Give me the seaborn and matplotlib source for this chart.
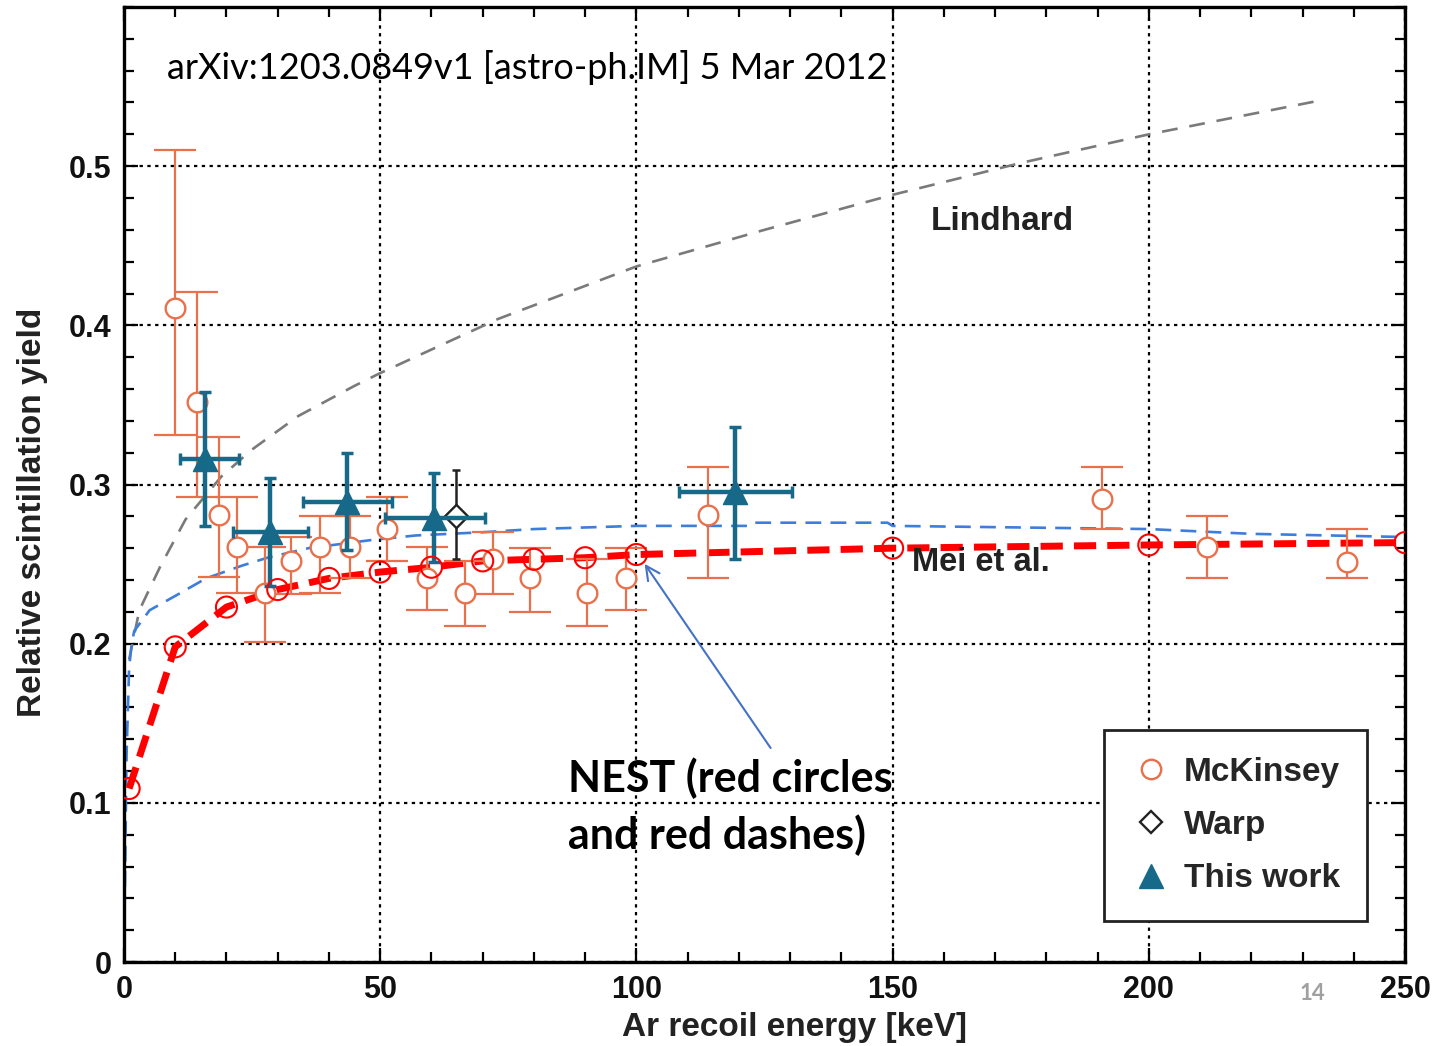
import matplotlib
matplotlib.use("Agg")
import matplotlib.pyplot as plt
import seaborn as sns
import numpy as np
import pandas as pd
from matplotlib.lines import Line2D

# ---------------- data ----------------
mck_x = [10, 14.3, 18.6, 22, 27.5, 32.6, 38.3, 44.1, 51.3, 59.1, 66.5, 72, 79.2, 90.4, 98, 114, 190.8, 211.3, 238.7]
mck_y = [0.411, 0.352, 0.281, 0.261, 0.232, 0.252, 0.261, 0.261, 0.272, 0.241, 0.232, 0.253, 0.241, 0.232, 0.241, 0.281, 0.291, 0.261, 0.251]
mck_lo = [0.331, 0.292, 0.242, 0.232, 0.201, 0.231, 0.232, 0.241, 0.252, 0.221, 0.211, 0.231, 0.220, 0.211, 0.221, 0.241, 0.272, 0.241, 0.241]
mck_hi = [0.510, 0.421, 0.330, 0.292, 0.261, 0.267, 0.280, 0.280, 0.292, 0.261, 0.252, 0.270, 0.260, 0.253, 0.260, 0.311, 0.311, 0.280, 0.272]

tw_x = [15.8, 28.5, 43.5, 60.5, 119.3]
tw_y = [0.316, 0.270, 0.289, 0.279, 0.295]
tw_lo = [0.274, 0.236, 0.259, 0.251, 0.253]
tw_hi = [0.358, 0.304, 0.320, 0.307, 0.336]
tw_xlo = [10.9, 21.3, 34.9, 51.0, 108.3]
tw_xhi = [22.4, 35.9, 52.3, 70.5, 130.4]

warp_x = [64.8]
warp_y = [0.280]
warp_lo = [0.253]
warp_hi = [0.309]

nest_x = [1, 10, 20, 30, 40, 50, 60, 70, 80, 90, 100, 150, 200, 250]
nest_y = [0.109, 0.198, 0.223, 0.234, 0.241, 0.245, 0.248, 0.252, 0.253, 0.254, 0.256, 0.260, 0.262, 0.2635]

mei_x = [0, 0.5, 1.0, 1.5, 2, 5, 10, 16, 23, 28, 36, 48, 57, 70, 80, 100, 122, 123, 149, 150, 200, 220, 250]
mei_y = [0.0, 0.13, 0.185, 0.200, 0.208, 0.221, 0.230, 0.241, 0.249, 0.254, 0.260, 0.265, 0.268, 0.270, 0.272, 0.274, 0.274, 0.276, 0.276, 0.274, 0.272, 0.269, 0.267]

lind_x = [1, 3, 7, 12, 19, 25, 34, 45, 50, 73, 100, 125, 150, 175, 200, 233]
lind_y = [0.19, 0.221, 0.248, 0.278, 0.305, 0.322, 0.343, 0.362, 0.370, 0.404, 0.437, 0.460, 0.482, 0.502, 0.520, 0.541]

x_ticks = [0, 50, 100, 150, 200, 250]
y_ticks = [0, 0.1, 0.2, 0.3, 0.4, 0.5]
y_tick_labels = ["0", "0.1", "0.2", "0.3", "0.4", "0.5"]

# ---------------- style ----------------
sns.set_theme(style="white")
plt.rcParams["font.family"] = ["Liberation Sans", "DejaVu Sans"]
plt.rcParams["font.weight"] = "bold"

C_MCK = "#E8704A"
C_TW = "#17698A"
C_RED = "#FF0000"
C_MEI = "#3D7DDB"
C_LIND = "#7A7A7A"

fig = plt.figure(figsize=(14.35, 10.46), dpi=100)
ax = fig.add_axes([124 / 1435, 84 / 1046, 1281 / 1435, 955 / 1046])

# curves
sns.lineplot(x=lind_x, y=lind_y, ax=ax, color=C_LIND, lw=1.9, sort=False,
             estimator=None, linestyle=(0, (6, 4.5)), zorder=2)
sns.lineplot(x=mei_x, y=mei_y, ax=ax, color=C_MEI, lw=1.9, sort=False,
             estimator=None, linestyle=(0, (6, 3.5)), zorder=2)
sns.lineplot(x=nest_x, y=nest_y, ax=ax, color=C_RED, lw=5, sort=False,
             estimator=None, linestyle=(0, (3.2, 1.6)), zorder=3)

# McKinsey
mck_y_arr = np.array(mck_y)
ax.errorbar(mck_x, mck_y, yerr=[mck_y_arr - np.array(mck_lo), np.array(mck_hi) - mck_y_arr],
            fmt="none", ecolor=C_MCK, elinewidth=1.6, capsize=15, capthick=1.6, zorder=4)
sns.scatterplot(x=mck_x, y=mck_y, ax=ax, marker="o", s=200, facecolor="white",
                edgecolor=C_MCK, linewidth=1.7, zorder=5)

# Warp
wy = np.array(warp_y)
ax.errorbar(warp_x, warp_y, yerr=[wy - np.array(warp_lo), np.array(warp_hi) - wy],
            fmt="none", ecolor="#222222", elinewidth=1.8, capsize=3, capthick=1.8, zorder=4)
sns.scatterplot(x=warp_x, y=warp_y, ax=ax, marker="D", s=140, facecolor="white",
                edgecolor="#222222", linewidth=1.7, zorder=5)

# This work
ty = np.array(tw_y)
tx = np.array(tw_x)
ax.errorbar(tw_x, tw_y, yerr=[ty - np.array(tw_lo), np.array(tw_hi) - ty],
            xerr=[tx - np.array(tw_xlo), np.array(tw_xhi) - tx],
            fmt="none", ecolor=C_TW, elinewidth=3.2, capsize=4, capthick=2.5, zorder=6)
sns.scatterplot(x=tw_x, y=tw_y, ax=ax, marker="^", s=300, color=C_TW,
                edgecolor=C_TW, linewidth=1, zorder=7)

# NEST circles
sns.scatterplot(x=nest_x, y=nest_y, ax=ax, marker="o", s=230, facecolor="none",
                edgecolor=C_RED, linewidth=1.5, zorder=8)

# ---------------- axes ----------------
ax.set_xlim(0, 250)
ax.set_ylim(0, 0.6)
ax.set_xticks(x_ticks)
ax.set_yticks(y_ticks)
ax.set_yticklabels(y_tick_labels)
ax.set_xticks(np.arange(0, 251, 10), minor=True)
ax.set_yticks(np.arange(0, 0.601, 0.02), minor=True)
ax.tick_params(which="both", direction="in", top=True, right=True, bottom=True, left=True,
               color="black", width=1.6)
ax.tick_params(which="major", length=10, labelsize=22, pad=9)
ax.tick_params(which="minor", length=7)
for lab in ax.get_xticklabels() + ax.get_yticklabels():
    lab.set_fontweight("bold")
    lab.set_color("#111111")
for sp in ax.spines.values():
    sp.set_color("black")
    sp.set_linewidth(2.4)

ax.grid(True, which="major", color="black", linestyle=(0, (1.5, 2.0)), linewidth=1.6)
ax.set_axisbelow(True)

ax.set_xlabel("Ar recoil energy [keV]", fontsize=24, fontweight="bold", color="#222222")
ax.set_ylabel("Relative scintillation yield", fontsize=24, fontweight="bold", color="#222222")
ax.xaxis.set_label_coords((795 - 124) / 1281, (962 - 1012) / 955)
ax.yaxis.set_label_coords((48 - 124) / 1281, (962 - 512) / 955)

# texts
ax.text(8.4, 0.562, "arXiv:1203.0849v1 [astro-ph.IM] 5 Mar 2012", family=["Lato", "DejaVu Sans"],
        fontweight="normal", fontsize=26, ha="left", va="center", color="black", zorder=10)
ax.text(171.5, 0.465, "Lindhard", fontsize=24, fontweight="bold", ha="center", va="center",
        color="#222222")
ax.text(167.3, 0.251, "Mei et al.", fontsize=23.5, fontweight="bold", ha="center", va="center",
        color="#222222", zorder=9)
ax.text(86.7, 0.1157, "NEST (red circles", family=["Lato", "DejaVu Sans"], fontweight="bold",
        fontsize=31, ha="left", va="center", color="black", zorder=10)
ax.text(86.7, 0.0799, "and red dashes)", family=["Lato", "DejaVu Sans"], fontweight="bold",
        fontsize=31, ha="left", va="center", color="black", zorder=10)
ax.annotate("", xy=(101.3, 0.2516), xytext=(126.5, 0.133),
            arrowprops=dict(arrowstyle="->", color="#4472C4", lw=1.5, mutation_scale=25),
            zorder=10)
fig.text(1312 / 1435, 1 - 993 / 1046, "14", family=["Lato", "DejaVu Sans"], fontsize=16,
         color="#A0A0A0", ha="center", va="center")

# legend
handles = [
    Line2D([], [], marker="o", linestyle="none", markersize=14, markerfacecolor="white",
           markeredgecolor=C_MCK, markeredgewidth=1.7),
    Line2D([], [], marker="D", linestyle="none", markersize=11, markerfacecolor="white",
           markeredgecolor="#222222", markeredgewidth=1.7),
    Line2D([], [], marker="^", linestyle="none", markersize=17, color=C_TW),
]
leg = ax.legend(handles, ["McKinsey", "Warp", "This work"], loc="upper left",
                bbox_to_anchor=((1104 - 124) / 1281, (962 - 730) / 955),
                frameon=True, fancybox=False, framealpha=1, edgecolor="#222222",
                prop={"weight": "bold", "size": 24}, handletextpad=0.4, borderpad=0.8,
                labelspacing=0.67, handlelength=1.2, borderaxespad=0)
leg.get_frame().set_linewidth(2.0)
leg.set_zorder(12)

fig.savefig("out.png", dpi=100)
